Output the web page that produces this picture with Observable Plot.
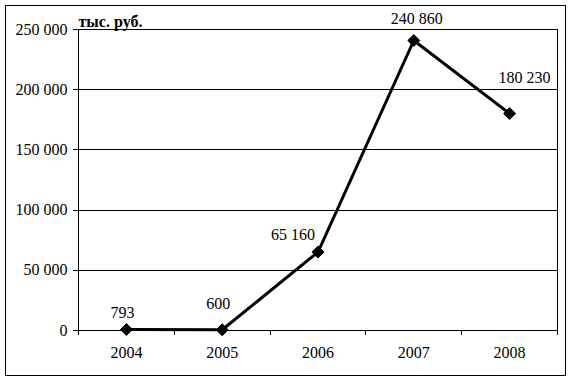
<!DOCTYPE html>
<html>
<head>
<meta charset="utf-8">
<script src="https://cdn.jsdelivr.net/npm/d3@7"></script>
<script src="https://cdn.jsdelivr.net/npm/@observablehq/plot@0.6"></script>
<style>
  html, body { margin: 0; padding: 0; background: #fff; }
  #wrap { position: relative; width: 572px; height: 381px; }
  #frame { position: absolute; left: 5px; top: 5px; width: 561px; height: 371px; border: 1px solid #000; box-sizing: border-box; pointer-events: none; }
  #wrap svg, #wrap svg text { font-family: "Liberation Serif", "Times New Roman", Times, serif !important; }
</style>
</head>
<body>
<div id="wrap"><div id="frame"></div></div>
<script>
const years = [2004, 2005, 2006, 2007, 2008];
const values = [793, 600, 65160, 240860, 180230];
const valueLabels = ["793", "600", "65 160", "240 860", "180 230"];
const yTicks = [0, 50000, 100000, 150000, 200000, 250000];
const unitLabel = "тыс. руб.";

// label offsets (style only)
const labelDx = [-4, -4, -25, 3, 15];
const labelDy = [-17, -26, -17, -22, -36];

const data = years.map((yr, i) => ({year: yr, value: values[i], label: valueLabels[i], dx: labelDx[i], dy: labelDy[i]}));
const bounds = [years[0] - 0.5, ...years.map(y => y + 0.5)];
const fmt = d3.formatLocale({thousands: " ", grouping: [3], decimal: ","}).format(",");

const chart = Plot.plot({
  width: 572,
  height: 381,
  marginLeft: 78,
  marginRight: 15,
  marginTop: 29,
  marginBottom: 51,
  style: {fontSize: "16px", color: "#000", background: "transparent"},
  x: {type: "linear", domain: [bounds[0], bounds[bounds.length - 1]]},
  y: {domain: [0, 250000]},
  marks: [
    Plot.ruleY(yTicks, {stroke: "#000", strokeWidth: 1, shapeRendering: "crispEdges"}),
    Plot.ruleX([bounds[0], bounds[bounds.length - 1]], {y1: 0, y2: 250000, stroke: "#000", strokeWidth: 1, shapeRendering: "crispEdges"}),
    Plot.axisY({ticks: yTicks, tickSize: 5, tickPadding: 6, tickFormat: fmt, label: null, stroke: "#000", fill: "#000", shapeRendering: "crispEdges"}),
    Plot.axisX({ticks: years, tickSize: 0, tickPadding: 16, tickFormat: d => String(d), label: null, fill: "#000"}),
    Plot.axisX({ticks: bounds, tickSize: 5, tickFormat: () => "", label: null, stroke: "#000", shapeRendering: "crispEdges"}),
    Plot.line(data, {x: "year", y: "value", stroke: "#000", strokeWidth: 3}),
    Plot.dot(data, {x: "year", y: "value", symbol: "diamond2", r: 5.4, fill: "#000", stroke: "#000", strokeWidth: 1}),
    ...data.map(d => Plot.text([d], {x: "year", y: "value", text: "label", dx: d.dx, dy: d.dy, lineAnchor: "middle", fill: "#000", fontSize: 16})),
    Plot.text([unitLabel], {frameAnchor: "top-left", textAnchor: "start", lineAnchor: "bottom", dy: -3, fontWeight: "bold", fontSize: 16, fill: "#000"})
  ]
});
document.getElementById("wrap").prepend(chart);
chart.style.position = "absolute";
chart.style.left = "0";
chart.style.top = "0";
</script>
</body>
</html>
